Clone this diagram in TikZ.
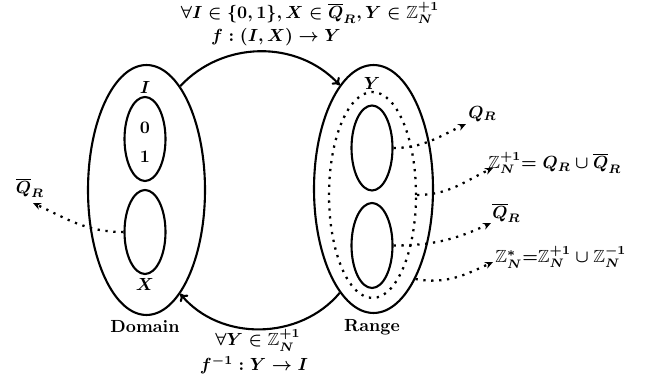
\documentclass[tikz,border=0pt]{standalone}
\usepackage{amsmath,amssymb}
\usetikzlibrary{shapes.geometric,arrows.meta}
\begin{document}
\boldmath
\begin{tikzpicture}[x=0.02cm,y=-0.02cm,
  setshape/.style={draw,ellipse,inner sep=0pt,line width=1.2pt},
  dotline/.style={line width=1.3pt,dash pattern=on 1.3pt off 3.2pt},
  maparrow/.style={line width=1.2pt,-{To[length=4pt,width=6pt]}},
  dotarrow/.style={dotline,-{Stealth[length=4.5pt,width=4pt]}},
  lbl/.style={inner sep=0pt}]
\useasboundingbox (0,0) rectangle (645,377);
% Domain
\node[setshape,minimum width=2.34cm,minimum height=5.0cm] (dom) at (146.5,190) {};
\node[setshape,minimum width=0.82cm,minimum height=1.68cm] (dI) at (145,139) {};
\node[setshape,minimum width=0.82cm,minimum height=1.68cm] (dX) at (145,232) {};
\node[lbl] (tI) at (145,87) {$I$};
\node[lbl] (t0) at (145,128) {$0$};
\node[lbl] (t1) at (145,157) {$1$};
\node[lbl] (tX) at (145,284) {$X$};
\node[lbl] (tdom) at (145,327) {\bfseries Domain};
% Range
\node[setshape,minimum width=2.38cm,minimum height=4.96cm] (ran) at (373.5,189) {};
\node[draw,ellipse,inner sep=0pt,dotline,minimum width=1.74cm,minimum height=4.12cm] (rdot) at (372.5,195) {};
\node[setshape,minimum width=0.82cm,minimum height=1.70cm] (rQ) at (372,148) {};
\node[setshape,minimum width=0.82cm,minimum height=1.70cm] (rQb) at (372,245.5) {};
\node[lbl] (tY) at (372,83) {$Y$};
\node[lbl] (tran) at (372,327) {\bfseries Range};
% mapping labels
\node[lbl,anchor=base] (top1) at (310,19) {$\forall I\in\{0,1\}, X\in\overline{Q}_R, Y\in\mathbb{Z}_N^{+1}$};
\node[lbl,anchor=base] (top2) at (276,42) {$f:(I,X)\rightarrow Y$};
\node[lbl,anchor=base] (bot1) at (258,346) {$\forall Y\in\mathbb{Z}_N^{+1}$};
\node[lbl,anchor=base] (bot2) at (254,371) {$f^{-1}:Y\rightarrow I$};
% mapping arrows
\draw[maparrow] (dom.72) to[out=47,in=133] (ran.108);
\draw[maparrow] (ran.-108) to[out=-130,in=-50] (dom.-72);
% side labels
\node[lbl] (lQbl) at (30,188) {$\overline{Q}_R$};
\node[lbl,anchor=west] (lQ) at (468,114) {$Q_R$};
\node[lbl,anchor=west] (lZ) at (488,163) {$\mathbb{Z}_N^{+1}{=}\;Q_R\cup\overline{Q}_R$};
\node[lbl,anchor=west] (lQb) at (492,213) {$\overline{Q}_R$};
\node[lbl,anchor=west] (lZs) at (495,257) {$\mathbb{Z}_N^{*}{=}\mathbb{Z}_N^{+1}\cup\mathbb{Z}_N^{-1}$};
\coordinate (eQbl) at (33,203);
\coordinate (eQ) at (466,124);
\coordinate (eZ) at (493,168);
\coordinate (eQb) at (491,223);
\coordinate (eZs) at (493,262);
% dotted arrows
\draw[dotarrow] (dX.west) to[out=180,in=-25] (eQbl);
\draw[dotarrow] (rQ.east) to[out=0,in=205] (eQ);
\draw[dotarrow] (rdot.east) to[out=0,in=205] (eZ);
\draw[dotarrow] (rQb.east) to[out=0,in=205] (eQb);
\draw[dotarrow] (ran.-65) to[out=-10,in=205] (eZs);
\end{tikzpicture}
\end{document}
